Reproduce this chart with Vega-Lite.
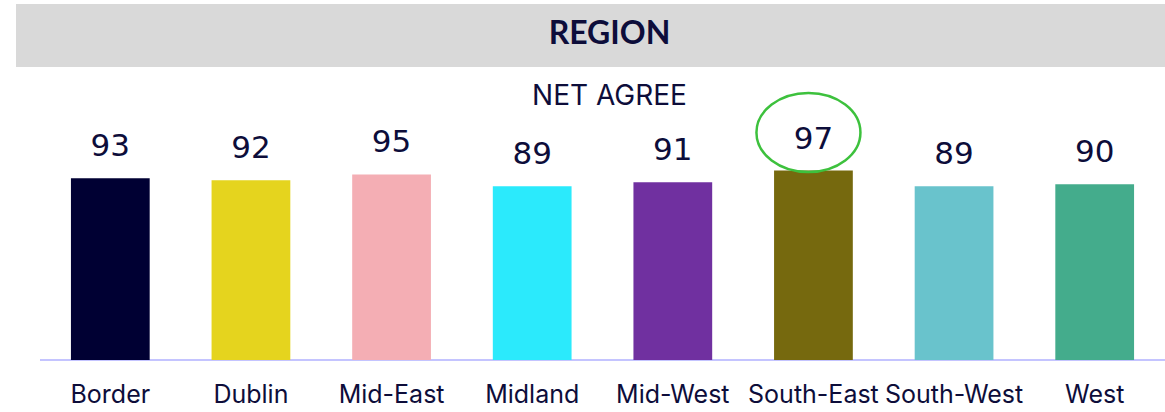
{
  "$schema": "https://vega.github.io/schema/vega-lite/v6.json",
  "padding": {"left": 16, "top": 4, "right": 0, "bottom": 0},
  "spacing": 0,
  "config": {"view": {"stroke": null}, "font": "Inter"},
  "vconcat": [
    {
      "width": 1149,
      "height": 63,
      "view": {"fill": "#d9d9d9", "stroke": null},
      "data": {"values": [{"header": "REGION"}]},
      "mark": {"type": "text", "font": "Lato", "fontWeight": "bold", "fontSize": 32, "color": "#0d0d3a", "dx": 19, "dy": -2, "baseline": "middle"},
      "encoding": {
        "x": {"field": "header", "type": "nominal", "axis": null},
        "text": {"field": "header"}
      }
    },
    {
      "width": 1149,
      "height": 293,
      "data": {"values": [
        {"region": "Border", "value": 93, "color": "#000033"},
        {"region": "Dublin", "value": 92, "color": "#e5d41e"},
        {"region": "Mid-East", "value": 95, "color": "#f4aeb4"},
        {"region": "Midland", "value": 89, "color": "#2beafc"},
        {"region": "Mid-West", "value": 91, "color": "#7030a0"},
        {"region": "South-East", "value": 97, "color": "#76690e"},
        {"region": "South-West", "value": 89, "color": "#69c3cc"},
        {"region": "West", "value": 90, "color": "#44ac8c"}
      ]},
      "encoding": {
        "x": {
          "field": "region", "type": "nominal", "sort": null,
          "scale": {"domain": ["Border", "Dublin", "Mid-East", "Midland", "Mid-West", "South-East", "South-West", "West"], "range": [24, 1149], "paddingInner": 0.44, "paddingOuter": 0.22},
          "axis": {"title": null, "labelAngle": 0, "labelFontSize": 25, "labelColor": "#0d0d3a", "labelBaseline": "alphabetic", "labelPadding": 42, "ticks": false, "domain": false, "labelFont": "Inter"}
        },
        "y": {
          "field": "value", "type": "quantitative",
          "scale": {"domain": [0, 150], "nice": false},
          "axis": null
        }
      },
      "layer": [
        {
          "mark": {"type": "rule", "color": "#c4c4ff", "strokeWidth": 2},
          "encoding": {
            "x": {"datum": "Border", "bandPosition": -0.392},
            "x2": {"datum": "West", "bandPosition": 1.392},
            "y": {"datum": 0}
          }
        },
        {
          "mark": {"type": "bar"},
          "encoding": {"color": {"field": "color", "type": "nominal", "scale": null}}
        },
        {
          "mark": {"type": "text", "baseline": "alphabetic", "dy": -22, "fontSize": 31, "color": "#0d0d3a", "font": "DejaVu Sans"},
          "encoding": {"text": {"field": "value", "type": "quantitative"}}
        },
        {
          "transform": [{"filter": "datum.region === 'South-East'"}],
          "mark": {"type": "point", "shape": "M -1 0 A 1 0.76 0 1 0 1 0 A 1 0.76 0 1 0 -1 0 Z", "size": 10816, "filled": false, "stroke": "#3dc13d", "strokeWidth": 2.5, "opacity": 1, "yOffset": -38, "xOffset": -5},
          "encoding": {}
        },
        {
          "data": {"values": [{"label": "NET AGREE", "pos": 130.5}]},
          "mark": {"type": "text", "baseline": "alphabetic", "fontSize": 28, "color": "#0d0d3a", "font": "Inter", "dx": 19},
          "encoding": {
            "x": null,
            "y": {"field": "pos", "type": "quantitative"},
            "text": {"field": "label"}
          }
        }
      ]
    }
  ]
}
